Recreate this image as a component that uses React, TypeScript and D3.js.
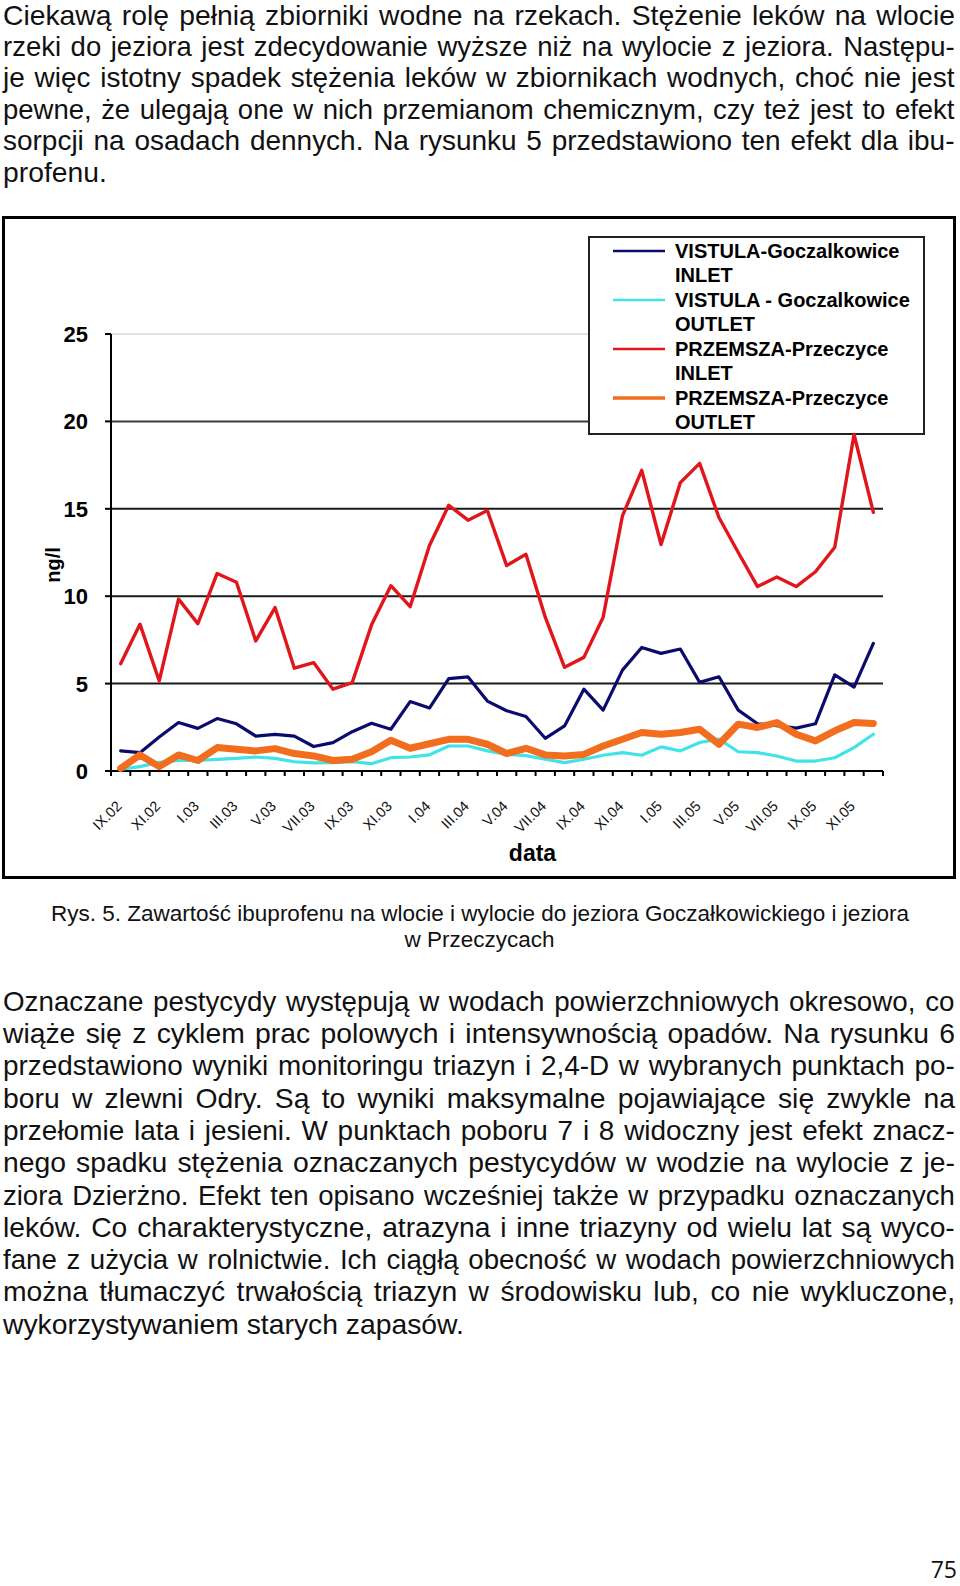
import React, { useMemo } from "react";
import * as d3 from "d3";

// ---------- DATA ----------
const months = [
  "IX.02", "X.02", "XI.02", "XII.02",
  "I.03", "II.03", "III.03", "IV.03", "V.03", "VI.03", "VII.03", "VIII.03", "IX.03", "X.03", "XI.03", "XII.03",
  "I.04", "II.04", "III.04", "IV.04", "V.04", "VI.04", "VII.04", "VIII.04", "IX.04", "X.04", "XI.04", "XII.04",
  "I.05", "II.05", "III.05", "IV.05", "V.05", "VI.05", "VII.05", "VIII.05", "IX.05", "X.05", "XI.05", "XII.05",
];

const vistulaInlet = [
  1.15, 1.05, 1.95, 2.77, 2.44, 3.0, 2.7, 2.0, 2.1, 2.0, 1.4, 1.62, 2.25, 2.73, 2.39, 3.97, 3.6, 5.29, 5.38, 4.0,
  3.45, 3.12, 1.87, 2.58, 4.68, 3.48, 5.77, 7.07, 6.73, 6.98, 5.07, 5.39, 3.48, 2.7, 2.6, 2.45, 2.7, 5.5, 4.8, 7.3,
];
const vistulaOutlet = [
  0.1, 0.25, 0.5, 0.6, 0.6, 0.67, 0.72, 0.8, 0.72, 0.53, 0.46, 0.48, 0.53, 0.42, 0.76, 0.8, 0.92, 1.43, 1.43, 1.15,
  0.95, 0.88, 0.67, 0.48, 0.67, 0.9, 1.05, 0.9, 1.38, 1.15, 1.63, 1.82, 1.1, 1.05, 0.86, 0.57, 0.57, 0.76, 1.34, 2.1,
];
const przemszaInlet = [
  6.14, 8.4, 5.15, 9.83, 8.43, 11.3, 10.8, 7.44, 9.35, 5.88, 6.2, 4.68, 5.06, 8.36, 10.6, 9.4, 12.9, 15.2, 14.35, 14.9,
  11.75, 12.4, 8.8, 5.93, 6.5, 8.8, 14.6, 17.2, 12.96, 16.5, 17.6, 14.5, 12.5, 10.55, 11.1, 10.55, 11.4, 12.8, 19.25, 14.8,
];
const przemszaOutlet = [
  0.15, 0.92, 0.25, 0.92, 0.6, 1.34, 1.24, 1.15, 1.28, 1.0, 0.86, 0.6, 0.67, 1.1, 1.76, 1.3, 1.56, 1.81, 1.81, 1.53,
  1.0, 1.3, 0.92, 0.86, 0.95, 1.43, 1.82, 2.2, 2.1, 2.2, 2.39, 1.53, 2.68, 2.49, 2.77, 2.1, 1.72, 2.3, 2.77, 2.72,
];

const yTicks = [0, 5, 10, 15, 20, 25];

const legendLabels = [
  ["VISTULA-Goczalkowice", "INLET"],
  ["VISTULA - Goczalkowice", "OUTLET"],
  ["PRZEMSZA-Przeczyce", "INLET"],
  ["PRZEMSZA-Przeczyce", "OUTLET"],
];

const para1 = [
  "Ciekawą rolę pełnią zbiorniki wodne na rzekach. Stężenie leków na wlocie",
  "rzeki do jeziora jest zdecydowanie wyższe niż na wylocie z jeziora. Następu-",
  "je więc istotny spadek stężenia leków w zbiornikach wodnych, choć nie jest",
  "pewne, że ulegają one w nich przemianom chemicznym, czy też jest to efekt",
  "sorpcji na osadach dennych. Na rysunku 5 przedstawiono ten efekt dla ibu-",
  "profenu.",
];
const caption = [
  "Rys. 5. Zawartość ibuprofenu na wlocie i wylocie do jeziora Goczałkowickiego i jeziora",
  "w Przeczycach",
];
const para2 = [
  "Oznaczane pestycydy występują w wodach powierzchniowych okresowo, co",
  "wiąże się z cyklem prac polowych i intensywnością opadów. Na rysunku 6",
  "przedstawiono wyniki monitoringu triazyn i 2,4-D w wybranych punktach po-",
  "boru w zlewni Odry. Są to wyniki maksymalne pojawiające się zwykle na",
  "przełomie lata i jesieni. W punktach poboru 7 i 8 widoczny jest efekt znacz-",
  "nego spadku stężenia oznaczanych pestycydów w wodzie na wylocie z je-",
  "ziora Dzierżno. Efekt ten opisano wcześniej także w przypadku oznaczanych",
  "leków. Co charakterystyczne, atrazyna i inne triazyny od wielu lat są wyco-",
  "fane z użycia w rolnictwie. Ich ciągłą obecność w wodach powierzchniowych",
  "można tłumaczyć trwałością triazyn w środowisku lub, co nie wykluczone,",
  "wykorzystywaniem starych zapasów.",
];
const pageNumber = "75";

// ---------- STYLES / LAYOUT ----------
const W = 960;
const H = 1586;
const plot = { left: 111, right: 883, top: 334, bottom: 771 };
const seriesStyle = [
  { color: "#0b0b6e", width: 3.2 },
  { color: "#3fe3e8", width: 3.2 },
  { color: "#e0161b", width: 3.4 },
  { color: "#f26d1d", width: 7 },
];
const BODY_FONT = "'Liberation Sans', Arial, sans-serif";
const BODY_SIZE = 28.3;
const MIN_GAP = 2; // minimal extra word spacing, px

let ctx: CanvasRenderingContext2D | null = null;
function measure(text: string, font: string): number {
  if (!ctx) ctx = document.createElement("canvas").getContext("2d");
  if (!ctx) return text.length * 12;
  ctx.font = font;
  return ctx.measureText(text).width;
}

function Paragraph({ lines, y0, pitch }: { lines: string[]; y0: number; pitch: number }) {
  const left = 3;
  const right = 955;
  const avail = right - left;
  const font = `${BODY_SIZE}px "Liberation Sans"`;
  return (
    <g fontFamily={BODY_FONT} fontSize={BODY_SIZE} fill="#111">
      {lines.map((ln, i) => {
        const last = i === lines.length - 1;
        const spaces = (ln.match(/ /g) || []).length;
        let ws = 0;
        let sx = 1;
        if (!last && spaces > 0) {
          const nat = measure(ln, font);
          ws = (avail - nat) / spaces;
          if (ws < MIN_GAP) {
            ws = MIN_GAP;
            sx = avail / (nat + MIN_GAP * spaces);
          }
        }
        const yy = y0 + i * pitch;
        return (
          <text
            key={i}
            transform={`translate(${left},${yy}) scale(${sx},1)`}
            style={{ wordSpacing: `${ws}px`, whiteSpace: "pre" }}
          >
            {ln}
          </text>
        );
      })}
    </g>
  );
}

export default function App() {
  const x = useMemo(() => d3.scaleBand<string>().domain(months).range([plot.left, plot.right]).padding(0), []);
  const y = useMemo(() => d3.scaleLinear().domain([0, 25]).range([plot.bottom, plot.top]), []);
  const cx = (i: number) => (x(months[i]) as number) + x.bandwidth() / 2;
  const lineGen = d3
    .line<number>()
    .x((_, i) => cx(i))
    .y((d) => y(d))
    .curve(d3.curveLinear);

  const allSeries = [vistulaInlet, vistulaOutlet, przemszaInlet, przemszaOutlet];
  const boundaries = months.map((m) => x(m) as number).concat([plot.right]);

  const legend = { x: 589, y: 237, w: 335, h: 197 };

  return (
    <svg
      width={W}
      height={H}
      viewBox={`0 0 ${W} ${H}`}
      style={{ position: "absolute", left: 0, top: 0, background: "#fff" }}
    >
      <rect x={0} y={0} width={W} height={H} fill="#fff" />

      <Paragraph lines={para1} y0={24.5} pitch={31.45} />

      {/* chart frame */}
      <rect x={3.5} y={217.5} width={951} height={660} fill="#fff" stroke="#000" strokeWidth={3} />

      {/* gridlines */}
      {yTicks.filter((t) => t > 0).map((t) => (
        <line
          key={t}
          x1={plot.left}
          x2={plot.right}
          y1={y(t)}
          y2={y(t)}
          stroke={t === 25 ? "#c4c4c4" : t === 20 ? "#3a3a3a" : "#1a1a1a"}
          strokeWidth={t === 25 ? 1 : 2}
        />
      ))}

      {/* y axis */}
      <line x1={plot.left} x2={plot.left} y1={plot.top} y2={plot.bottom} stroke="#000" strokeWidth={2} />
      {yTicks.map((t) => (
        <g key={t}>
          <line x1={plot.left - 6} x2={plot.left} y1={y(t)} y2={y(t)} stroke="#000" strokeWidth={2} />
          <text
            x={88}
            y={y(t)}
            dy="0.36em"
            textAnchor="end"
            fontFamily={BODY_FONT}
            fontWeight="bold"
            fontSize={22}
            fill="#000"
          >
            {t}
          </text>
        </g>
      ))}
      <text
        transform={`translate(60,565) rotate(-90)`}
        textAnchor="middle"
        fontFamily={BODY_FONT}
        fontWeight="bold"
        fontSize={20}
        fill="#000"
      >
        ng/l
      </text>

      {/* x axis */}
      <line x1={plot.left} x2={plot.right} y1={plot.bottom} y2={plot.bottom} stroke="#000" strokeWidth={2} />
      {boundaries.map((bx, i) => (
        <line key={i} x1={bx} x2={bx} y1={plot.bottom} y2={plot.bottom + 5} stroke="#000" strokeWidth={2} />
      ))}
      {months.map((m, i) =>
        i % 2 === 0 ? (
          <text
            key={m}
            transform={`translate(${cx(i) + 2},807) rotate(-45)`}
            textAnchor="end"
            fontFamily={BODY_FONT}
            fontSize={14.5}
            fill="#111"
          >
            {m}
          </text>
        ) : null
      )}
      <text x={532.5} y={861} textAnchor="middle" fontFamily={BODY_FONT} fontWeight="bold" fontSize={23} fill="#000">
        data
      </text>

      {/* legend box */}
      <rect
        x={legend.x}
        y={legend.y}
        width={legend.w}
        height={legend.h}
        fill="#fff"
        stroke="#222"
        strokeWidth={2}
      />
      {legendLabels.map((lbl, e) => {
        const base = 258 + e * 49;
        return (
          <g key={e}>
            <line
              x1={613}
              x2={665}
              y1={base - 7}
              y2={base - 7}
              stroke={seriesStyle[e].color}
              strokeWidth={e === 3 ? 3.5 : 2.5}
            />
            {lbl.map((t, r) => (
              <text
                key={r}
                x={675}
                y={base + r * 24}
                fontFamily={BODY_FONT}
                fontWeight="bold"
                fontSize={20}
                fill="#000"
              >
                {t}
              </text>
            ))}
          </g>
        );
      })}

      {/* series */}
      {allSeries.map((vals, s) => (
        <path
          key={s}
          d={lineGen(vals) || ""}
          fill="none"
          stroke={seriesStyle[s].color}
          strokeWidth={seriesStyle[s].width}
          strokeLinejoin="round"
          strokeLinecap="round"
        />
      ))}

      {/* caption */}
      <g fontFamily={BODY_FONT} fontSize={22.5} fill="#111" textAnchor="middle">
        <text x={480} y={921}>{caption[0]}</text>
        <text x={479.5} y={947}>{caption[1]}</text>
      </g>

      <Paragraph lines={para2} y0={1010.7} pitch={32.3} />

      <text
        x={957}
        y={1578}
        textAnchor="end"
        fontFamily="'Open Sans', 'Noto Sans', sans-serif"
        fontSize={23}
        fill="#111"
      >
        {pageNumber}
      </text>
    </svg>
  );
}
